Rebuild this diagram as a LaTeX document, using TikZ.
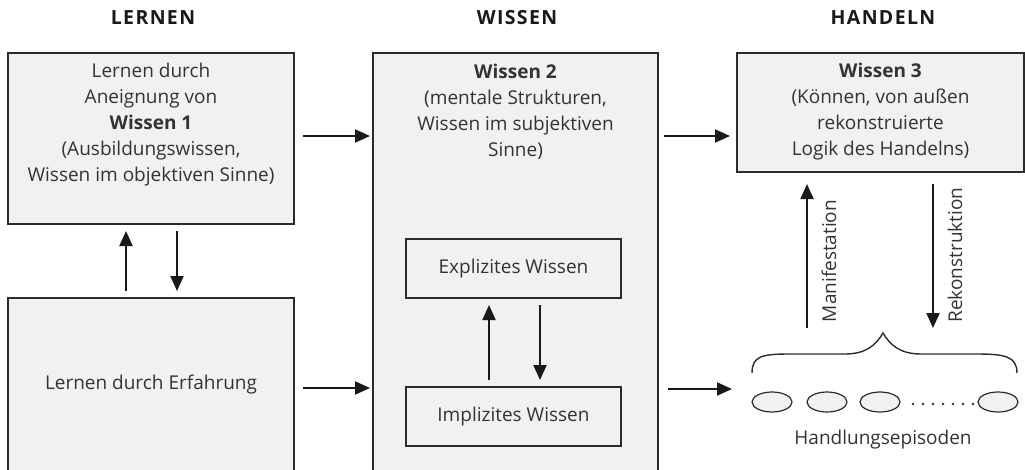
\documentclass[tikz,border=0pt]{standalone}
\usepackage{fontspec}
\setmainfont{Open Sans}
\newfontfamily\hdrfont[LetterSpace=7]{Open Sans}
\usetikzlibrary{arrows.meta,shapes.geometric}
\definecolor{boxfill}{HTML}{F0F1F3}
\definecolor{boxline}{HTML}{2B2B2B}
\definecolor{txt}{HTML}{333333}
\tikzset{
  box/.style={draw=boxline, fill=boxfill, line width=1.8pt, inner sep=0pt},
  inbox/.style={draw=boxline, line width=1.6pt, inner sep=0pt},
  lbl/.style={text=txt, font=\fontsize{19}{26}\selectfont, align=center, inner sep=0pt},
  hdr/.style={text=black!90, font=\hdrfont\bfseries\fontsize{19.5}{22}\selectfont, inner sep=0pt},
  arr/.style={draw=black!90, line width=2pt, -{Triangle[length=15pt,width=13pt]}},
  epi/.style={ellipse, draw=boxline, fill=boxfill, line width=1.2pt, minimum width=40pt, minimum height=20pt, inner sep=0pt},
}
\begin{document}
\begin{tikzpicture}[x=1pt,y=-1pt]
\useasboundingbox (0,0) rectangle (1025,469);
% headers
\node[hdr] (hL) at (153,18) {LERNEN};
\node[hdr] (hW) at (517,18) {WISSEN};
\node[hdr] (hH) at (883,18) {HANDELN};
% boxes
\node[box, minimum width=286pt, minimum height=171pt] (b1) at (151,138.5) {};
\node[box, minimum width=286pt, minimum height=175pt] (b4) at (151,385.5) {};
\node[box, minimum width=285pt, minimum height=422pt] (b2) at (515.5,264) {};
\node[box, minimum width=287pt, minimum height=119pt] (b3) at (880.5,112.5) {};
\node[inbox, minimum width=215pt, minimum height=59pt] (ex) at (513.5,268.5) {};
\node[inbox, minimum width=215pt, minimum height=59pt] (im) at (513.5,416.5) {};
% texts
\node[lbl] (t1) at (151,125) {Lernen durch\\Aneignung von\\\textbf{Wissen 1}\\(Ausbildungswissen,\\Wissen im objektiven Sinne)};
\node[lbl] (t2) at (515.5,112) {\textbf{Wissen 2}\\(mentale Strukturen,\\Wissen im subjektiven\\Sinne)};
\node[lbl] (t3) at (880.5,112) {\textbf{Wissen 3}\\(Können, von außen\\rekonstruierte\\Logik des Handelns)};
\node[lbl] (t4) at (151,385) {Lernen durch Erfahrung};
\node[lbl] (tex) at (513.5,269) {Explizites Wissen};
\node[lbl] (tim) at (513.5,417) {Implizites Wissen};
% episodes
\node[epi] (e1) at (772,402) {};
\node[epi] (e2) at (827,402) {};
\node[epi] (e3) at (880,402) {};
\node[epi] (e4) at (998,402) {};
\foreach \i in {0,...,6} { \fill[boxline] (913+\i*10,404) circle (1.3pt); }
\node[lbl] (tep) at (883,440) {Handlungsepisoden};
% brace
\coordinate (brL) at (752,373);
\coordinate (brR) at (1017,373);
\coordinate (brP) at (883,333);
\draw[boxline, line width=1.4pt] (brL) .. controls (752,356) and (762,354) .. (790,354)
  -- (845,354) .. controls (866,354) and (876,345) .. (brP)
  .. controls (890,345) and (900,354) .. (921,354)
  -- (976,354) .. controls (1004,354) and (1017,356) .. (brR);
% arrow coordinates
\coordinate (a1s) at (303,136); \coordinate (a1e) at (370,136);
\coordinate (a2s) at (664,136); \coordinate (a2e) at (730,136);
\coordinate (a3s) at (303,388); \coordinate (a3e) at (370,388);
\coordinate (a4s) at (668,389); \coordinate (a4e) at (732,389);
\draw[arr] (a1s) -- (a1e);
\draw[arr] (a2s) -- (a2e);
\draw[arr] (a3s) -- (a3e);
\draw[arr] (a4s) -- (a4e);
\coordinate (u1s) at (126,291); \coordinate (u1e) at (126,231);
\coordinate (d1s) at (177,231); \coordinate (d1e) at (177,291);
\draw[arr] (u1s) -- (u1e);
\draw[arr] (d1s) -- (d1e);
\coordinate (u2s) at (489,380); \coordinate (u2e) at (489,305);
\coordinate (d2s) at (540,305); \coordinate (d2e) at (540,380);
\draw[arr] (u2s) -- (u2e);
\draw[arr] (d2s) -- (d2e);
\coordinate (u3s) at (807,328); \coordinate (u3e) at (807,184);
\coordinate (d3s) at (933,184); \coordinate (d3e) at (933,328);
\draw[arr] (u3s) -- (u3e);
\draw[arr] (d3s) -- (d3e);
\node[lbl, rotate=90] (man) at (829,261) {Manifestation};
\node[lbl, rotate=90] (rek) at (955,255) {Rekonstruktion};
\end{tikzpicture}
\end{document}
